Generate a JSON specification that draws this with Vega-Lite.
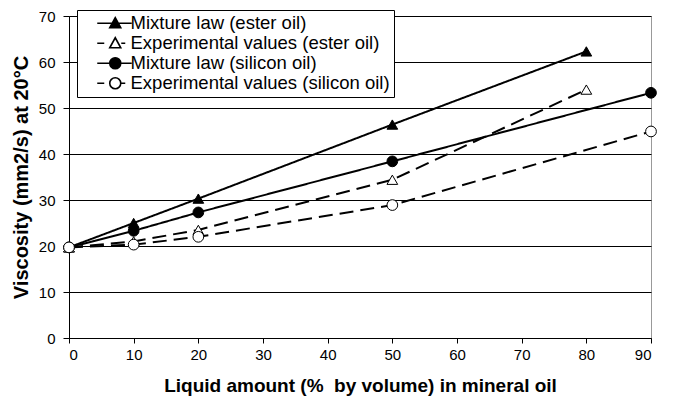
{
  "$schema": "https://vega.github.io/schema/vega-lite/v6.json",
  "width": 582,
  "height": 322,
  "autosize": "none",
  "padding": {"left": 69, "top": 16, "right": 22, "bottom": 64},
  "background": "white",
  "config": {
    "font": "Liberation Sans",
    "view": {"stroke": "#999999", "strokeWidth": 1},
    "axis": {"labelFont": "Liberation Sans", "titleFont": "Liberation Sans", "labelColor": "black", "titleColor": "black", "domainColor": "black", "tickColor": "black", "labelFontSize": 15, "titleFontSize": 19, "titleFontWeight": "bold"}
  },
  "data": {
    "values": [
      {"series": "Mixture law (ester oil)", "kind": "law", "oil": "ester", "x": 0, "y": 19.7},
      {"series": "Mixture law (ester oil)", "kind": "law", "oil": "ester", "x": 10, "y": 25.0},
      {"series": "Mixture law (ester oil)", "kind": "law", "oil": "ester", "x": 20, "y": 30.3},
      {"series": "Mixture law (ester oil)", "kind": "law", "oil": "ester", "x": 50, "y": 46.4},
      {"series": "Mixture law (ester oil)", "kind": "law", "oil": "ester", "x": 80, "y": 62.3},
      {"series": "Experimental values (ester oil)", "kind": "exp", "oil": "ester", "x": 0, "y": 19.7},
      {"series": "Experimental values (ester oil)", "kind": "exp", "oil": "ester", "x": 10, "y": 21.0},
      {"series": "Experimental values (ester oil)", "kind": "exp", "oil": "ester", "x": 20, "y": 23.5},
      {"series": "Experimental values (ester oil)", "kind": "exp", "oil": "ester", "x": 50, "y": 34.4},
      {"series": "Experimental values (ester oil)", "kind": "exp", "oil": "ester", "x": 80, "y": 54.0},
      {"series": "Mixture law (silicon oil)", "kind": "law", "oil": "silicon", "x": 0, "y": 19.7},
      {"series": "Mixture law (silicon oil)", "kind": "law", "oil": "silicon", "x": 10, "y": 23.3},
      {"series": "Mixture law (silicon oil)", "kind": "law", "oil": "silicon", "x": 20, "y": 27.3},
      {"series": "Mixture law (silicon oil)", "kind": "law", "oil": "silicon", "x": 50, "y": 38.4},
      {"series": "Mixture law (silicon oil)", "kind": "law", "oil": "silicon", "x": 90, "y": 53.3},
      {"series": "Experimental values (silicon oil)", "kind": "exp", "oil": "silicon", "x": 0, "y": 19.7},
      {"series": "Experimental values (silicon oil)", "kind": "exp", "oil": "silicon", "x": 10, "y": 20.3},
      {"series": "Experimental values (silicon oil)", "kind": "exp", "oil": "silicon", "x": 20, "y": 22.0},
      {"series": "Experimental values (silicon oil)", "kind": "exp", "oil": "silicon", "x": 50, "y": 28.9},
      {"series": "Experimental values (silicon oil)", "kind": "exp", "oil": "silicon", "x": 90, "y": 44.9}
    ]
  },
  "encoding": {
    "x": {"field": "x", "type": "quantitative", "scale": {"domain": [0, 90], "nice": false, "zero": false},
      "axis": {"values": [0,10,20,30,40,50,60,70,80,90], "grid": false, "tickSize": 5, "labelPadding": 4, "title": "Liquid amount (%\u00a0 by volume) in mineral oil", "titlePadding": 14}},
    "y": {"field": "y", "type": "quantitative", "scale": {"domain": [0, 70], "nice": false},
      "axis": {"values": [0,10,20,30,40,50,60,70], "grid": true, "gridColor": "black", "gridOpacity": 1, "tickSize": 6, "labelPadding": 8, "title": "Viscosity (mm2/s) at 20°C", "titleFontSize": 20, "titlePadding": 7}}
  },
  "layer": [
    {
      "mark": {"type": "line", "strokeWidth": 2, "color": "black"},
      "encoding": {
        "detail": {"field": "series"},
        "strokeDash": {"field": "kind", "type": "nominal", "scale": {"domain": ["law", "exp"], "range": [[1, 0], [14, 7]]}, "legend": null}
      }
    },
    {
      "mark": {"type": "point", "filled": false, "stroke": "black", "strokeWidth": 1, "opacity": 1, "size": 115},
      "encoding": {
        "fill": {"condition": {"test": "datum.kind == 'law'", "value": "black"}, "value": "white"},
        "shape": {"condition": {"test": "datum.oil == 'ester'", "value": "triangle-up"}, "value": "circle"}
      }
    },
    {
      "transform": [{"filter": "datum.x < 0"}],
      "mark": {"type": "point", "filled": false, "strokeWidth": 1.6, "opacity": 1},
      "encoding": {
        "stroke": {"field": "series", "type": "nominal", "scale": {"domain": ["Mixture law (ester oil)", "Experimental values (ester oil)", "Mixture law (silicon oil)", "Experimental values (silicon oil)"], "range": ["black", "black", "black", "black"]}},
        "fill": {"field": "series", "type": "nominal", "scale": {"domain": ["Mixture law (ester oil)", "Experimental values (ester oil)", "Mixture law (silicon oil)", "Experimental values (silicon oil)"], "range": ["black", "white", "black", "white"]}},
        "shape": {"field": "series", "type": "nominal", "scale": {"domain": ["Mixture law (ester oil)", "Experimental values (ester oil)", "Mixture law (silicon oil)", "Experimental values (silicon oil)"],
          "range": ["M-3.6,0H3.3M0,-1.1L1.1,0.9L-1.1,0.9Z", "M-3.6,0H-2.2M1.2,0H2.0M0,-1.1L1.1,0.9L-1.1,0.9Z", "M-3.6,0H3.3M-1.1,0A1.1,1.1 0 1,0 1.1,0A1.1,1.1 0 1,0 -1.1,0Z", "M-3.6,0H-2.2M1.2,0H2.0M-1.1,0A1.1,1.1 0 1,0 1.1,0A1.1,1.1 0 1,0 -1.1,0Z"]},
          "legend": {
            "title": null, "orient": "none", "legendX": 8, "legendY": -6,
            "fillColor": "white", "strokeColor": "black", "padding": 4,
            "labelFont": "Liberation Sans", "labelFontSize": 18.5, "labelColor": "black", "labelLimit": 400,
            "symbolSize": 100, "symbolStrokeWidth": 1.6, "symbolOffset": 25, "labelOffset": 6, "rowPadding": 1
          }
        }
      }
    }
  ]
}
